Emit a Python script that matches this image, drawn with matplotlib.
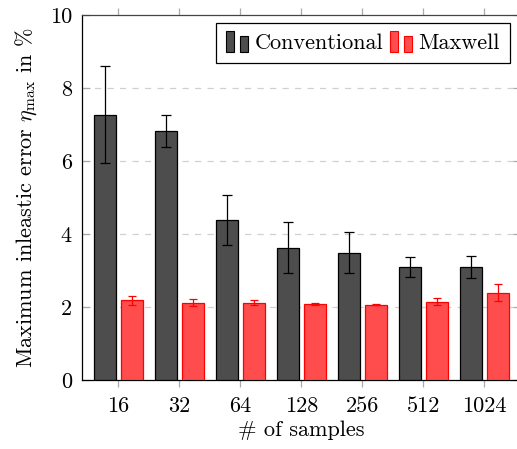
import matplotlib
matplotlib.use("Agg")
import matplotlib.pyplot as plt
import numpy as np
from matplotlib.patches import Rectangle
from matplotlib.legend_handler import HandlerBase

plt.rcParams['font.family'] = ['cmr10', 'DejaVu Serif']
plt.rcParams['mathtext.fontset'] = 'cm'
plt.rcParams['axes.formatter.use_mathtext'] = True

categories = ["16", "32", "64", "128", "256", "512", "1024"]
conv_vals = [7.27, 6.82, 4.38, 3.63, 3.49, 3.10, 3.09]
conv_err = [1.32, 0.44, 0.69, 0.71, 0.57, 0.28, 0.30]
maxw_vals = [2.18, 2.12, 2.12, 2.08, 2.06, 2.15, 2.39]
maxw_err = [0.12, 0.09, 0.07, 0.02, 0.01, 0.09, 0.23]
yticks = [0, 2, 4, 6, 8, 10]

dark = "#4d4d4d"
redf = "#ff4d4d"
FS = 16

fig = plt.figure(figsize=(5.17, 4.49), dpi=100)
ax = fig.add_axes([81.7 / 517, 1 - 380 / 449, (521 - 81.7) / 517, (380 - 15) / 449])

x = np.arange(len(categories))
w = 0.36
off = 0.22
ax.bar(x - off, conv_vals, w, color=dark, edgecolor="black", linewidth=0.9, zorder=3)
ax.bar(x + off, maxw_vals, w, color=redf, edgecolor="red", linewidth=0.9, zorder=3)
ax.errorbar(x - off, conv_vals, yerr=conv_err, fmt="none", ecolor="black",
            elinewidth=0.9, capsize=3.3, capthick=0.9, zorder=4)
eb = ax.errorbar(x + off, maxw_vals, yerr=maxw_err, fmt="none", ecolor="red",
                 elinewidth=0.9, capsize=3.0, capthick=0.9, zorder=4)
for c in eb[1]:
    c.set_color("#222222")

ax.set_xlim(-0.6, 6.6)
ax.set_ylim(0, 10)
ax.set_xticks(x)
ax.set_xticklabels(categories)
ax.set_yticks(yticks)
ax.set_yticklabels([str(t) for t in yticks])

for t in [2, 4, 6, 8]:
    ax.axhline(t, color="#d0d0d0", linestyle=(0, (5, 5)), linewidth=0.9, zorder=1)

ax.tick_params(axis="x", which="both", direction="out", length=5, width=0.9,
               color="#aaaaaa", top=True, bottom=True, labelsize=FS, pad=7)
ax.tick_params(axis="y", which="both", direction="in", length=6, width=0.9,
               color="#aaaaaa", left=True, right=True, labelsize=FS, pad=7)

ax.spines["left"].set_color("black")
ax.spines["bottom"].set_color("black")
ax.spines["top"].set_color("#444444")
ax.spines["right"].set_color("#444444")
for s in ax.spines.values():
    s.set_linewidth(0.9)

ax.set_xlabel("# of samples", fontsize=FS, labelpad=3)
ax.set_ylabel(r"Maximum inleastic error $\eta_{\max}$ in %", fontsize=FS, labelpad=8)


class BarPairHandler(HandlerBase):
    def __init__(self, fc, ec, **kw):
        super().__init__(**kw)
        self.fc = fc
        self.ec = ec

    def create_artists(self, legend, orig_handle, xdescent, ydescent, width, height, fontsize, trans):
        bw = width * 0.33
        r1 = Rectangle((-xdescent + width * 0.02, -ydescent - height * 0.2), bw, height * 1.35,
                       facecolor=self.fc, edgecolor=self.ec, linewidth=0.8, transform=trans)
        r2 = Rectangle((-xdescent + width * 0.62, -ydescent - height * 0.2), bw, height * 1.0,
                       facecolor=self.fc, edgecolor=self.ec, linewidth=0.8, transform=trans)
        return [r1, r2]


h1 = Rectangle((0, 0), 1, 1)
h2 = Rectangle((0, 0), 1, 1)
leg = ax.legend([h1, h2], ["Conventional", "Maxwell"], loc="upper right",
                bbox_to_anchor=((510 - 81.7) / (521 - 81.7), 1 - (23.3 - 15) / 365),
                ncol=2, fontsize=FS, frameon=True, fancybox=False, framealpha=1,
                edgecolor="black", handlelength=1.05, handletextpad=0.25, columnspacing=0.3,
                borderpad=0.45, borderaxespad=0,
                handler_map={h1: BarPairHandler(dark, "black"), h2: BarPairHandler(redf, "red")})
leg.get_frame().set_linewidth(0.9)
leg.set_zorder(5)

fig.savefig("out.png", dpi=100)
